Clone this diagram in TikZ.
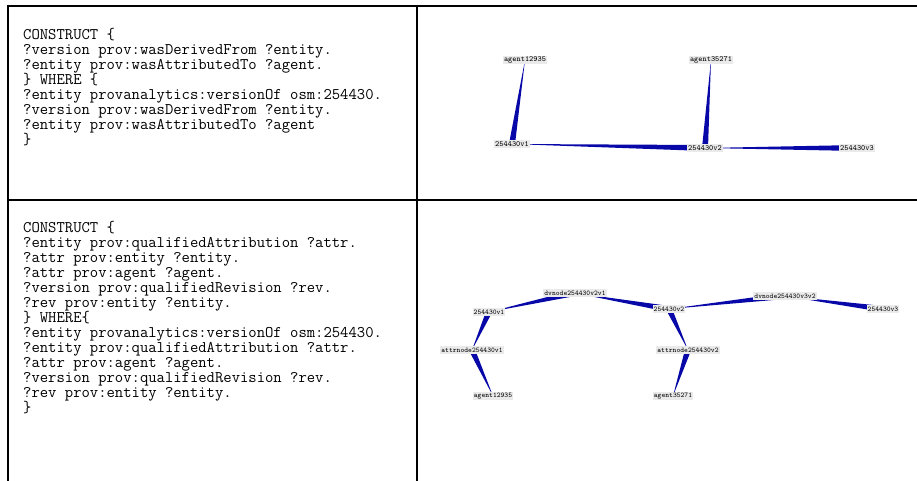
\documentclass[tikz,border=0pt]{standalone}
\usepackage{fontspec}
\usetikzlibrary{calc,backgrounds}
\definecolor{edgecol}{RGB}{8,8,168}
\definecolor{lblgray}{RGB}{234,234,234}
\tikzset{
  vtx/.style={fill=lblgray,inner sep=1pt,minimum height=8pt,font=\ttfamily\fontsize{7.9}{8}\selectfont},
  query/.style={align=left,inner sep=0pt,anchor=north west,font=\ttfamily\fontsize{16.2}{15}\selectfont},
  rule/.style={line width=2pt}
}
% filled wedge, thin at the first node, wide at the second
\newcommand\taper[3][3]{\fill[edgecol] (#2.center) -- ($(#3.center)!#1pt!90:(#2.center)$) -- ($(#3.center)!#1pt!-90:(#2.center)$) -- cycle;}
\begin{document}
\begin{tikzpicture}[x=1pt,y=-1pt]
      \useasboundingbox (0,0) rectangle (917,481);
      % table
      \draw[rule] (8,481) -- (8,6) -- (917,6);
      \draw[rule] (417,6) -- (417,481);
      \draw[rule] (8,200) -- (917,200);
      % queries
      \node[query] (qtop) at (23,28) {CONSTRUCT \{\\
?version prov:wasDerivedFrom ?entity.\\
?entity prov:wasAttributedTo ?agent.\\
\} WHERE \{\\
?entity provanalytics:versionOf osm:254430.\\
?version prov:wasDerivedFrom ?entity.\\
?entity prov:wasAttributedTo ?agent\\
\}};
      \node[query] (qbot) at (23,221) {CONSTRUCT \{\\
?entity prov:qualifiedAttribution ?attr.\\
?attr prov:entity ?entity.\\
?attr prov:agent ?agent.\\
?version prov:qualifiedRevision ?rev.\\
?rev prov:entity ?entity.\\
\} WHERE\{\\
?entity provanalytics:versionOf osm:254430.\\
?entity prov:qualifiedAttribution ?attr.\\
?attr prov:agent ?agent.\\
?version prov:qualifiedRevision ?rev.\\
?rev prov:entity ?entity.\\
\}};
      % first graph
      \draw
        (525,60) node[vtx] (a1){agent12935}
        (711,60) node[vtx] (a2){agent35271}
        (512,144) node[vtx] (v1){254430v1}
        (705,148) node[vtx] (v2){254430v2}
        (857,148) node[vtx] (v3){254430v3};
      \begin{scope}[on background layer]
        \taper{a1}{v1}
        \taper{a2}{v2}
        \taper{v1}{v2}
        \taper{v2}{v3}
      \end{scope}
      % second graph
      \draw[vtx/.append style={font=\ttfamily\fontsize{7.2}{8}\selectfont}]
        (575,293) node[vtx] (d21){dvnode254430v2v1}
        (489,312) node[vtx] (w1){254430v1}
        (669,309) node[vtx] (w2){254430v2}
        (785,296) node[vtx] (d32){dvnode254430v3v2}
        (883,309) node[vtx] (w3){254430v3}
        (472,350) node[vtx] (r1){attrnode254430v1}
        (688,350) node[vtx] (r2){attrnode254430v2}
        (493,396) node[vtx] (g1){agent12935}
        (673,396) node[vtx] (g2){agent35271};
      \begin{scope}[on background layer]
        \taper{w1}{d21}
        \taper{d21}{w2}
        \taper{w2}{d32}
        \taper{d32}{w3}
        \taper{r1}{w1}
        \taper{g1}{r1}
        \taper{r2}{w2}
        \taper{g2}{r2}
      \end{scope}
    \end{tikzpicture}
\end{document}
